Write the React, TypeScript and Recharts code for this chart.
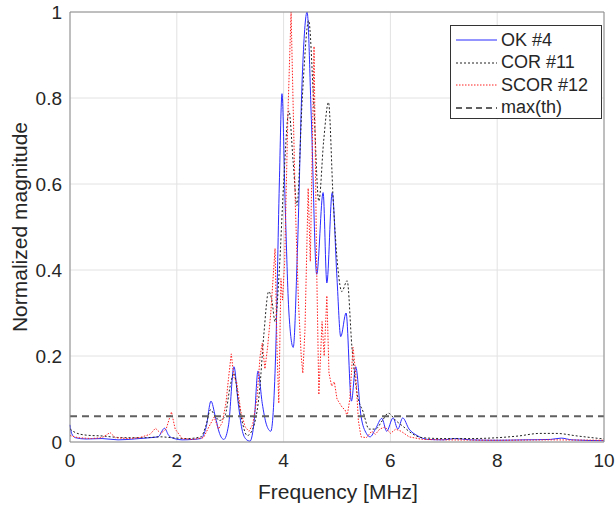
import { CartesianGrid, Line, LineChart, XAxis, YAxis } from "recharts";

const xTicks = [0, 2, 4, 6, 8, 10];
const yTicks = [0, 0.2, 0.4, 0.6, 0.8, 1];

const seriesNames = ["OK #4", "COR #11", "SCOR #12", "max(th)"];

// OK #4 (blue, solid)
const okX = [
  0, 0.03, 0.1, 0.3, 0.6, 0.9, 1.2, 1.5, 1.65, 1.77, 1.85, 1.95, 2.1, 2.3, 2.45, 2.55, 2.64, 2.72, 2.8, 2.88,
  2.97, 3.07, 3.15, 3.22, 3.3, 3.37, 3.45, 3.52, 3.6, 3.68, 3.76, 3.85, 3.92, 3.97, 4.03, 4.1, 4.18, 4.26, 4.35,
  4.44, 4.52, 4.62, 4.74, 4.81, 4.91, 5.0, 5.07, 5.17, 5.27, 5.35, 5.45, 5.55, 5.62, 5.72, 5.84, 5.93, 6.05,
  6.14, 6.23, 6.35, 6.5, 6.7, 7.0, 7.2, 7.5, 8.0, 8.5, 9.0, 9.2, 9.4, 10,
];
const okY = [
  0.04, 0.02, 0.01, 0.007, 0.008, 0.005, 0.007, 0.01, 0.012, 0.032, 0.015, 0.008, 0.005, 0.006, 0.008, 0.035,
  0.095, 0.06, 0.02, 0.006, 0.04, 0.175, 0.09, 0.03, 0.006, 0.002, 0.05, 0.165, 0.09, 0.04, 0.025, 0.2, 0.6, 0.81,
  0.55, 0.3, 0.22, 0.45, 0.85, 1.0, 0.75, 0.39, 0.58, 0.37, 0.58, 0.38, 0.245, 0.3, 0.095, 0.175, 0.06, 0.02,
  0.012, 0.03, 0.055, 0.025, 0.056, 0.03, 0.056, 0.03, 0.015, 0.006, 0.005, 0.008, 0.005, 0.004, 0.005, 0.006,
  0.009, 0.005, 0.003,
];

// COR #11 (black, dotted)
const corX = [
  0, 0.1, 0.3, 0.6, 1.0, 1.4, 1.7, 1.9, 2.2, 2.45, 2.55, 2.63, 2.72, 2.8, 2.9, 3.0, 3.07, 3.15, 3.22, 3.32, 3.42,
  3.55, 3.63, 3.72, 3.78, 3.84, 3.92, 4.0, 4.1, 4.18, 4.25, 4.35, 4.47, 4.56, 4.66, 4.75, 4.84, 4.93, 5.02, 5.09,
  5.19, 5.28, 5.38, 5.49, 5.6, 5.72, 5.85, 5.96, 6.1, 6.25, 6.4, 6.6, 7.0, 7.5, 8.0, 8.4, 8.8, 9.1, 9.5, 10,
];
const corY = [
  0.03, 0.022, 0.016, 0.014, 0.01, 0.01, 0.012, 0.01, 0.008, 0.012, 0.04, 0.075, 0.06, 0.05, 0.06, 0.13, 0.16,
  0.1, 0.05, 0.015, 0.03, 0.12, 0.25, 0.35, 0.33, 0.28, 0.4, 0.6, 0.77, 0.65, 0.55, 0.8, 0.98, 0.8, 0.56, 0.7,
  0.79, 0.56, 0.4, 0.35, 0.375, 0.22, 0.11, 0.07, 0.03, 0.03, 0.05, 0.067, 0.05, 0.035, 0.02, 0.01, 0.008, 0.008,
  0.01, 0.014, 0.02, 0.02, 0.014, 0.007,
];

// SCOR #12 (red, dotted)
const scorX = [
  0, 0.15, 0.4, 0.6, 0.75, 0.85, 1.1, 1.3, 1.5, 1.6, 1.7, 1.8, 1.9, 1.97, 2.1, 2.3, 2.5, 2.6, 2.7, 2.78, 2.85,
  2.92, 2.97, 3.02, 3.07, 3.12, 3.2, 3.28, 3.35, 3.42, 3.5, 3.56, 3.6, 3.65, 3.7, 3.76, 3.84, 3.88, 3.91, 3.95,
  3.98, 4.02, 4.08, 4.14, 4.22, 4.28, 4.33, 4.36, 4.4, 4.46, 4.5, 4.57, 4.62, 4.66, 4.72, 4.76, 4.81, 4.85, 4.9,
  4.95, 5.0, 5.05, 5.1, 5.15, 5.19, 5.24, 5.3, 5.35, 5.4, 5.45, 5.55, 5.65, 5.72, 5.8, 5.9, 6.0, 6.1, 6.2, 6.35,
  6.6, 7.0, 8.0, 9.0, 10,
];
const scorY = [
  0.015, 0.01, 0.008, 0.01, 0.022, 0.01, 0.008, 0.01, 0.018, 0.032, 0.02, 0.03, 0.07, 0.03, 0.008, 0.006, 0.01,
  0.035, 0.058, 0.03, 0.045, 0.09, 0.15, 0.205, 0.15, 0.14, 0.07, 0.035, 0.025, 0.04, 0.1, 0.2, 0.23, 0.17, 0.22,
  0.3, 0.45, 0.2, 0.09, 0.38, 0.33, 0.42, 0.76, 1.0, 0.55, 0.32, 0.2, 0.16, 0.26, 0.59, 0.42, 0.92, 0.4, 0.11,
  0.28, 0.2, 0.34, 0.16, 0.13, 0.14, 0.1, 0.09, 0.08, 0.075, 0.06, 0.1, 0.22, 0.16, 0.05, 0.012, 0.01, 0.025,
  0.018, 0.03, 0.035, 0.02, 0.03, 0.025, 0.012, 0.006, 0.005, 0.004, 0.005, 0.004,
];

// max(th) (dashed threshold)
const thX = [0, 10];
const thY = [0.06, 0.06];

const toPoints = (xs: number[], ys: number[]) => xs.map((x, i) => ({ x, y: ys[i] }));

const okData = toPoints(okX, okY);
const corData = toPoints(corX, corY);
const scorData = toPoints(scorX, scorY);
const thData = toPoints(thX, thY);

const FONT = "'Liberation Sans', Arial, Helvetica, sans-serif";
const AXIS = "#8c8c8c";
const TEXT = "#262626";

const legendStyles = [
  { stroke: "#2b2bff", dash: undefined, width: 1 },
  { stroke: "#222", dash: "2 2", width: 1 },
  { stroke: "#ff2020", dash: "1.5 1.5", width: 1 },
  { stroke: "#606060", dash: "6 4", width: 2 },
];

export default function App() {
  return (
    <div style={{ position: "absolute", left: 0, top: 0, width: 616, height: 505, background: "#fff", fontFamily: FONT }}>
      <LineChart width={616} height={505} data={okData} margin={{ top: 12, right: 12, bottom: 0, left: 0 }}>
        <CartesianGrid stroke="#e2e2e2" strokeWidth={1} />
        <XAxis
          dataKey="x"
          type="number"
          domain={[0, 10]}
          ticks={xTicks}
          height={63}
          tickLine={false}
          axisLine={{ stroke: AXIS }}
          tickMargin={6}
          tick={{ fontSize: 19, fill: TEXT, fontFamily: FONT }}
        />
        <YAxis
          type="number"
          domain={[0, 1]}
          ticks={yTicks}
          width={70}
          tickLine={false}
          axisLine={{ stroke: AXIS }}
          tick={{ fontSize: 19, fill: TEXT, fontFamily: FONT }}
          allowDataOverflow
        />
        <XAxis xAxisId="bt" type="number" dataKey="x" domain={[0, 10]} ticks={xTicks} mirror tick={false} axisLine={false} tickLine={{ stroke: AXIS }} tickSize={5} />
        <XAxis xAxisId="top" orientation="top" type="number" dataKey="x" domain={[0, 10]} ticks={xTicks} mirror tick={false} axisLine={{ stroke: AXIS }} tickLine={{ stroke: AXIS }} tickSize={5} />
        <YAxis yAxisId="lt" type="number" domain={[0, 1]} ticks={yTicks} mirror tick={false} axisLine={false} tickLine={{ stroke: AXIS }} tickSize={5} />
        <YAxis yAxisId="rt" orientation="right" type="number" domain={[0, 1]} ticks={yTicks} mirror tick={false} axisLine={{ stroke: AXIS }} tickLine={{ stroke: AXIS }} tickSize={5} />
        <Line data={okData} dataKey="y" name={seriesNames[0]} type="monotone" stroke="#2b2bff" strokeWidth={1} dot={false} isAnimationActive={false} />
        <Line data={corData} dataKey="y" name={seriesNames[1]} type="monotone" stroke="#222" strokeWidth={1} strokeDasharray="2 2" dot={false} isAnimationActive={false} />
        <Line data={scorData} dataKey="y" name={seriesNames[2]} type="linear" stroke="#ff2020" strokeWidth={1} strokeDasharray="1.5 1.5" dot={false} isAnimationActive={false} />
        <Line data={thData} dataKey="y" name={seriesNames[3]} type="linear" stroke="#606060" strokeWidth={2} strokeDasharray="7 5" dot={false} isAnimationActive={false} />
      </LineChart>

      <div style={{ position: "absolute", left: 0, top: 479, width: 676, textAlign: "center", fontSize: 21, color: TEXT, lineHeight: "26px" }}>
        Frequency [MHz]
      </div>
      <div
        style={{
          position: "absolute",
          left: 20,
          top: 227,
          transform: "translate(-50%, -50%) rotate(-90deg)",
          whiteSpace: "nowrap",
          fontSize: 21,
          color: TEXT,
          lineHeight: "26px",
        }}
      >
        Normalized magnitude
      </div>

      <div
        style={{
          position: "absolute",
          left: 450,
          top: 25,
          width: 150,
          height: 92,
          border: "1px solid #333",
          background: "#fff",
        }}
      >
        {seriesNames.map((name, i) => (
          <div key={name} style={{ position: "absolute", left: 0, top: 3 + i * 22.5, height: 22, display: "flex", alignItems: "center" }}>
            <svg width={50} height={22} style={{ display: "block" }}>
              <line
                x1={5}
                x2={46}
                y1={11}
                y2={11}
                stroke={legendStyles[i].stroke}
                strokeWidth={legendStyles[i].width}
                strokeDasharray={legendStyles[i].dash}
              />
            </svg>
            <span style={{ fontSize: 18, color: TEXT, whiteSpace: "nowrap" }}>{name}</span>
          </div>
        ))}
      </div>
    </div>
  );
}
